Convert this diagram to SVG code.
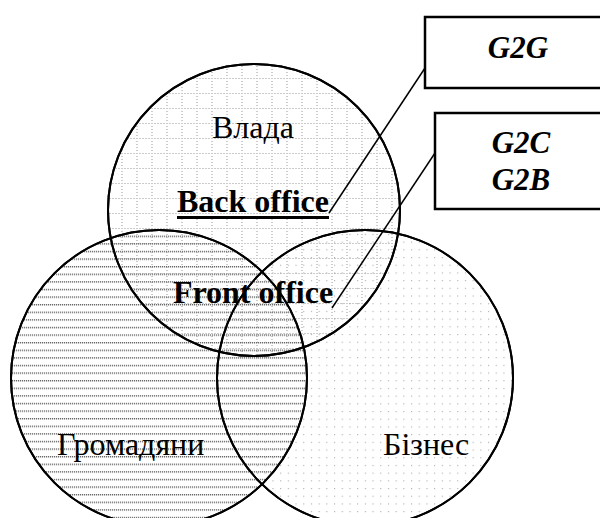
<svg xmlns="http://www.w3.org/2000/svg" width="600" height="518" viewBox="0 0 600 518">
<style>
.circ{stroke:#000;stroke-width:2}
.lbl{font-family:"Liberation Serif","Times New Roman",serif;font-size:32px;fill:#000}
.b{font-weight:bold}
.bi{font-family:"Liberation Serif","Times New Roman",serif;font-size:31px;font-weight:bold;font-style:italic;fill:#000}
.box{fill:#fff;stroke:#000;stroke-width:2.5}
.conn{stroke:#000;stroke-width:1.5;fill:none}
</style>
<defs>
<pattern id="grid" patternUnits="userSpaceOnUse" x="1.5" y="3" width="15" height="15">
<line x1="0.5" y1="0" x2="0.5" y2="15" stroke="#999" stroke-width="1" stroke-dasharray="1 2"/>
<line x1="0" y1="0.5" x2="15" y2="0.5" stroke="#999" stroke-width="1" stroke-dasharray="1 2"/>
</pattern>
<pattern id="hlines" patternUnits="userSpaceOnUse" x="0" y="0" width="6" height="7.6">
<line x1="0" y1="0.75" x2="6" y2="0.75" stroke="#666" stroke-width="1.3" stroke-dasharray="1.2 0.8"/>
</pattern>
<pattern id="dots" patternUnits="userSpaceOnUse" x="0" y="0" width="7.7" height="7.7">
<rect x="3" y="3" width="1" height="1" fill="#999"/>
</pattern>
</defs>
<g id="vlada">
<circle cx="254" cy="210" r="146" fill="url(#grid)" class="circ"/>
</g>
<g id="hromadiany">
<circle cx="159" cy="378" r="148" fill="url(#hlines)" class="circ"/>
</g>
<g id="biznes">
<circle cx="365" cy="378" r="148" fill="url(#dots)" class="circ"/>
</g>
<g id="outlines" fill="none" class="circ">
<circle cx="254" cy="210" r="146" fill="none"/>
<circle cx="159" cy="378" r="148" fill="none"/>
<circle cx="365" cy="378" r="148" fill="none"/>
</g>
<g id="labels">
<text class="lbl" x="253" y="138" text-anchor="middle">Влада</text>
<text class="lbl b" x="253" y="212" text-anchor="middle">Back office</text>
<rect x="177" y="216" width="152" height="3" fill="#000"/>
<text class="lbl b" x="253" y="303" text-anchor="middle">Front office</text>
<text class="lbl" x="57" y="455">Громадяни</text>
<text class="lbl" x="383" y="455">Бізнес</text>
</g>
<g id="connectors">
<line class="conn" x1="329" y1="213" x2="425" y2="68"/>
<line class="conn" x1="332" y1="308" x2="435" y2="153"/>
</g>
<g id="g2g">
<rect class="box" x="425" y="17" width="190" height="71"/>
<text class="bi" x="518" y="58" text-anchor="middle">G2G</text>
</g>
<g id="g2c">
<rect class="box" x="435" y="113" width="180" height="96"/>
<text class="bi" x="521" y="153" text-anchor="middle">G2C</text>
<text class="bi" x="521" y="190" text-anchor="middle">G2B</text>
</g>
</svg>
